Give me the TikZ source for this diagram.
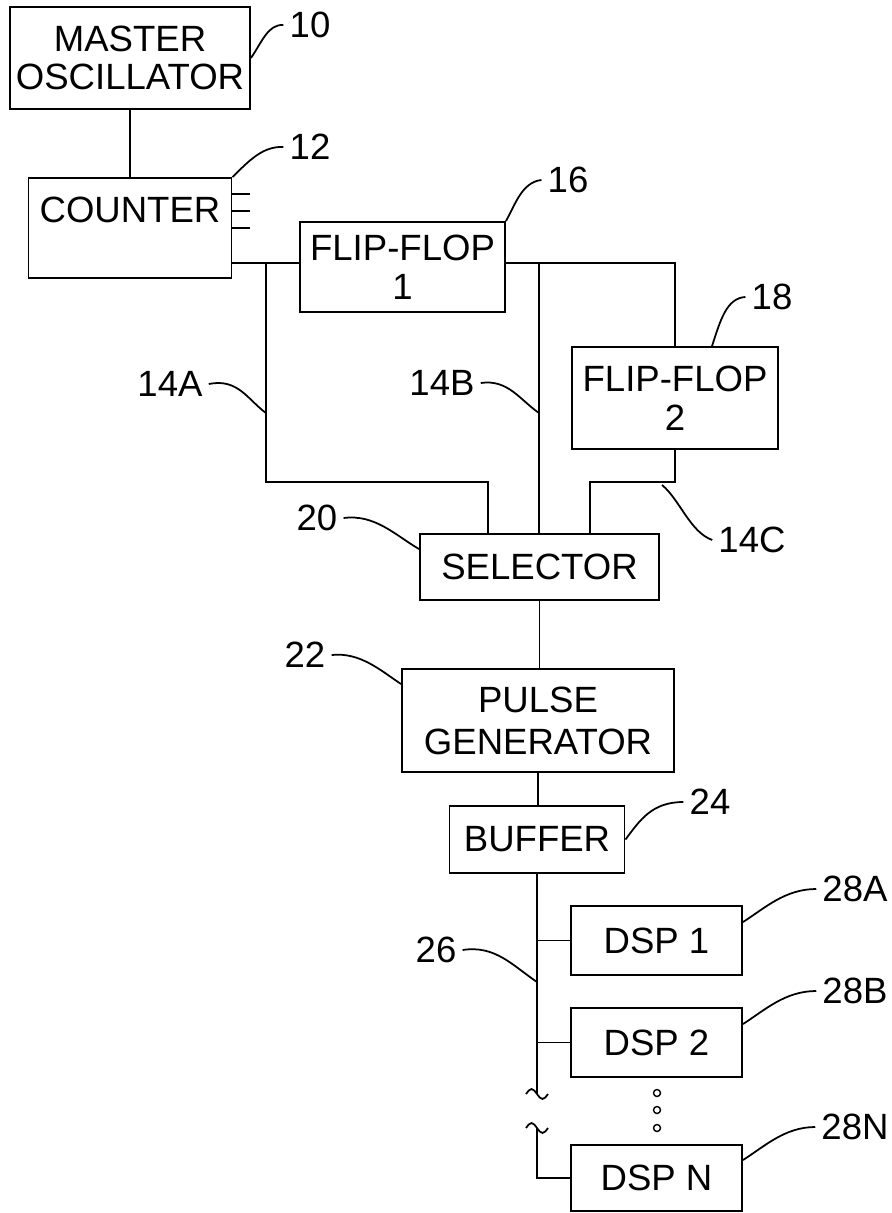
\documentclass[tikz,border=0pt]{standalone}
\usepackage{fontspec}
\setmainfont{Liberation Sans}
\usetikzlibrary{positioning, calc}

\begin{document}
\begin{tikzpicture}[x=0.2mm, y=-0.2mm, line width=1.1pt,
    blk/.style={draw, line width=1.1pt, align=center, inner sep=0pt, font=\fontsize{20.8}{22}\selectfont},
    num/.style={inner sep=3pt, font=\fontsize{20.8}{22}\selectfont},
    lead/.style={line width=1pt}]
    \useasboundingbox (0,0) rectangle (891,1213);

    \node[blk, minimum width=48mm, minimum height=20.4mm] (osc) at (130,58) {MASTER\\OSCILLATOR};
    \node[blk, minimum width=40.6mm, minimum height=20mm, text height=15pt, text depth=21.8pt] (cnt) at (130,228) {COUNTER};
    \node[blk, minimum width=41mm, minimum height=18mm] (ff1) at (402.5,267) {FLIP-FLOP\\1};
    \node[blk, minimum width=41.2mm, minimum height=20.4mm] (ff2) at (675,398) {FLIP-FLOP\\2};
    \node[blk, minimum width=47.8mm, minimum height=13.2mm] (sel) at (539.5,567) {SELECTOR};
    \node[blk, minimum width=54.4mm, minimum height=20.6mm, font=\fontsize{20.8}{24}\selectfont] (pg) at (538,720.5) {PULSE\\GENERATOR};
    \node[blk, minimum width=35mm, minimum height=13.4mm] (buf) at (537,839.5) {BUFFER};
    \node[blk, minimum width=34.2mm, minimum height=13.8mm] (dsp1) at (656.5,940.5) {DSP 1};
    \node[blk, minimum width=34.2mm, minimum height=13.8mm] (dsp2) at (656.5,1042.5) {DSP 2};
    \node[blk, minimum width=34.2mm, minimum height=13.2mm] (dspn) at (656.5,1178) {DSP N};

    \node[num] (n10) at (310,25) {10};
    \node[num] (n12) at (310,147) {12};
    \node[num] (n16) at (568,180) {16};
    \node[num] (n18) at (772,297) {18};
    \node[num] (n14a) at (170,384) {14A};
    \node[num] (n14b) at (442,383) {14B};
    \node[num] (n14c) at (752,540) {14C};
    \node[num] (n20) at (317,518) {20};
    \node[num] (n22) at (305,655) {22};
    \node[num] (n24) at (710,802) {24};
    \node[num] (n26) at (436,950) {26};
    \node[num] (n28a) at (855,889) {28A};
    \node[num] (n28b) at (855,991) {28B};
    \node[num] (n28n) at (855,1127) {28N};

    \coordinate (ja) at (266,263);
    \coordinate (jb) at (539,263);
    \coordinate (ta) at (266,413);
    \coordinate (tb) at (539,413);
    \coordinate (tbus) at (537,982);

    \draw (osc.south) -- (cnt.north);
    \foreach \ty in {194,211,228}
        \draw (cnt.east |- 0,\ty) -- ++(18,0);
    \draw (cnt.east |- ja) -- (ff1.west |- ja);
    \draw (ff1.east |- jb) -- (ff2.north |- jb) -- (ff2.north);
    \draw (ja) |- (488,482) -- (488,0 |- sel.north);
    \draw (jb) -- (jb |- sel.north);
    \draw (ff2.south) |- (590,482) -- (590,0 |- sel.north);
    \draw (sel.south) -- (sel.south |- pg.north);
    \draw (pg.south) -- (pg.south |- buf.north);
    \draw (buf.south) -- (buf.south |- 0,1094);
    \draw (buf.south |- dsp1.west) -- (dsp1.west);
    \draw (buf.south |- dsp2.west) -- (dsp2.west);
    \draw[lead] (526,1094) sin (531.5,1089) cos (537,1094) sin (542.5,1099) cos (548,1094);
    \draw[lead] (526,1128) sin (531.5,1123) cos (537,1128) sin (542.5,1133) cos (548,1128);
    \draw (537,1128) |- (dspn.west);
    \foreach \dy in {1093,1110,1128}
        \draw[line width=0.8pt] (657,\dy) circle[radius=0.7mm];

    \draw[lead] (osc.east) .. controls (262,42) and (268,24) .. (n10.west);
    \draw[lead] (cnt.north east) .. controls (248,162) and (262,146) .. (n12.west);
    \draw[lead] (ff1.north east) .. controls (515,205) and (522,182) .. (n16.west);
    \draw[lead] ($(ff2.north)+(37,0)$) .. controls (720,322) and (726,298) .. (n18.west);
    \draw[lead] (n14a.east) .. controls (238,378) and (248,400) .. (ta);
    \draw[lead] (n14b.east) .. controls (508,379) and (520,400) .. (tb);
    \draw[lead] ($(ff2.south)+(-13,35)$) .. controls (680,500) and (690,532) .. (n14c.west);
    \draw[lead] (n20.east) .. controls (375,514) and (395,535) .. ($(sel.north west)+(0,16)$);
    \draw[lead] (n22.east) .. controls (360,652) and (380,670) .. ($(pg.north west)+(0,16)$);
    \draw[lead] (buf.east) .. controls (640,820) and (652,802) .. (n24.west);
    \draw[lead] (n26.east) .. controls (495,945) and (512,965) .. (tbus);
    \draw[lead] ($(dsp1.north east)+(0,17)$) .. controls (765,908) and (785,889) .. (n28a.west);
    \draw[lead] ($(dsp2.north east)+(0,17)$) .. controls (765,1010) and (785,991) .. (n28b.west);
    \draw[lead] ($(dspn.north east)+(0,16)$) .. controls (765,1146) and (785,1127) .. (n28n.west);
\end{tikzpicture}
\end{document}
